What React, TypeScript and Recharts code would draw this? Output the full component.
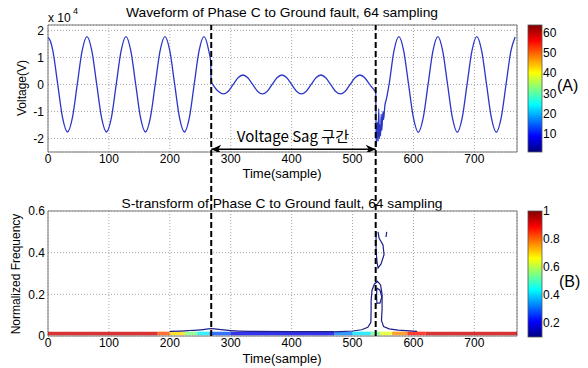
import React from "react";
import {
  ComposedChart,
  Line,
  XAxis,
  YAxis,
  CartesianGrid,
  ReferenceArea,
  ReferenceLine,
  ReferenceDot,
} from "recharts";

// ---- data (time in samples, voltage in units of 1e4 V) ----
const preFault: [number, number][] = [
  [0, 1.74], [4, 1.6], [8, 1.24], [16, 0], [24, -1.24], [32, -1.76], [40, -1.24], [48, 0],
  [56, 1.24], [64, 1.77], [72, 1.24], [80, 0], [88, -1.24], [96, -1.76], [104, -1.24], [112, 0],
  [120, 1.24], [128, 1.77], [136, 1.24], [144, 0], [152, -1.24], [160, -1.76], [168, -1.24], [176, 0],
  [184, 1.24], [192, 1.77], [200, 1.24], [208, 0], [216, -1.24], [224, -1.76], [232, -1.24], [240, 0],
  [248, 1.24], [256, 1.77], [264, 1.24], [267, 0.85],
];
const sagPart: [number, number][] = [
  [268, 0.1], [272, -0.05], [280, -0.26], [288, -0.35], [296, -0.25], [304, 0], [312, 0.25], [320, 0.35],
  [328, 0.25], [336, 0], [344, -0.25], [352, -0.35], [360, -0.25], [368, 0], [376, 0.25], [384, 0.35],
  [392, 0.25], [400, 0], [408, -0.25], [416, -0.35], [424, -0.25], [432, 0], [440, 0.25], [448, 0.35],
  [456, 0.25], [464, 0], [472, -0.25], [480, -0.35], [488, -0.25], [496, 0], [504, 0.25], [512, 0.35],
  [520, 0.25], [528, 0], [536, -0.22], [538, -0.27],
];
const transient: [number, number][] = [
  [539, -2.3], [541, -1.4], [542, -2.1], [543, -0.9], [544, -2.0], [545, -1.5], [546, -1.9],
  [547, -1.1], [548, -1.7], [550, -1.0], [551, -1.3], [553, -0.8], [556, -0.5], [560, 0.0],
];
const postFault: [number, number][] = [
  [568, 1.24], [576, 1.77], [584, 1.24], [592, 0], [600, -1.24], [608, -1.77], [616, -1.24], [624, 0],
  [632, 1.24], [640, 1.77], [648, 1.24], [656, 0], [664, -1.24], [672, -1.77], [680, -1.24], [688, 0],
  [696, 1.24], [704, 1.77], [712, 1.24], [720, 0], [728, -1.24], [736, -1.77], [744, -1.24], [752, 0],
  [760, 1.24], [767, 1.76],
];

const faultStart = 268;
const faultEnd = 538;
const xTicks = [0, 100, 200, 300, 400, 500, 600, 700];
const voltTicks = [-2, -1, 0, 1, 2];
const freqTicks = [0, 0.2, 0.4, 0.6];

// S-transform: low-frequency band, magnitude (0..1) per time span
const bandFrom = [0, 180, 200, 225, 245, 265, 300, 470, 500, 530, 545, 565, 590, 620];
const bandTo = [180, 200, 225, 245, 265, 300, 470, 500, 530, 545, 565, 590, 620, 770];
const bandLevel = [0.92, 0.8, 0.66, 0.5, 0.36, 0.2, 0.1, 0.25, 0.35, 0.48, 0.6, 0.74, 0.86, 0.92];

// S-transform contour lines [time, normalized freq]
const contourLow: [number, number][] = [
  [200, 0.022], [230, 0.026], [255, 0.031], [268, 0.035], [285, 0.031], [300, 0.026], [330, 0.022], [400, 0.021], [470, 0.021],
];
const contourBase: [number, number][] = [
  [470, 0.02], [500, 0.024], [515, 0.03], [525, 0.042], [530, 0.065], [530.5, 0.12], [530.5, 0.17],
  [532, 0.22], [536, 0.25], [541, 0.262], [546, 0.245], [548.5, 0.2], [548.5, 0.13], [547.5, 0.075],
  [551, 0.045], [560, 0.034], [575, 0.028], [606, 0.022],
];
const contourInner: [number, number][] = [
  [540, 0.23], [545, 0.22], [548, 0.187], [545, 0.158], [540, 0.158], [539.4, 0.197], [540, 0.23],
];
const contourUpper: [number, number][] = [
  [538.6, 0.5], [538.6, 0.41], [540.2, 0.355], [541.9, 0.326], [546.8, 0.346], [551.7, 0.39],
  [550, 0.437], [543.5, 0.47], [541.9, 0.5],
];
const contourTick: [number, number][] = [[556, 0.5], [555, 0.475]];

const colorbarATicks = [10, 20, 30, 40, 50, 60];
const colorbarBTicks = [0.2, 0.4, 0.6, 0.8, 1];

const toPts = (arr: [number, number][]) => arr.map(([x, y]) => ({ x, y }));
const waveData = toPts([...preFault, ...sagPart, ...transient, ...postFault]);
const arrowData = [{ x: faultStart, y: -2.4 }, { x: faultEnd, y: -2.4 }];

const clamp = (v: number) => Math.max(0, Math.min(1, v));
const jet = (v: number) => {
  const r = clamp(1.5 - Math.abs(4 * v - 3));
  const g = clamp(1.5 - Math.abs(4 * v - 2));
  const b = clamp(1.5 - Math.abs(4 * v - 1));
  return `rgb(${Math.round(r * 255)},${Math.round(g * 255)},${Math.round(b * 255)})`;
};
const JET_STOPS = [0, 0.125, 0.25, 0.375, 0.5, 0.625, 0.75, 0.875, 1];

const FONT = '"Liberation Sans", Arial, sans-serif';
const GRID = "#a8a8a8";
const BOX = "#767676";
const WAVE = "#2b36c8";
const CONTOUR = "#1c1f86";
const W = 588;
const H = 368;

const tickStyle = { fontSize: 12, fill: "#000", fontFamily: FONT };

const arrowHead = (props: any) => {
  const { cx, cy, index } = props;
  const d = index === 0 ? -1 : 1;
  return (
    <path
      key={`ah-${index}`}
      d={`M${cx},${cy} L${cx - d * 10},${cy - 4.5} L${cx - d * 7},${cy} L${cx - d * 10},${cy + 4.5} Z`}
      fill="#000"
    />
  );
};

const Overlay = () => {
  const cbX = 528;
  const cbW = 14;
  const aTop = 25, aH = 127;
  const bTop = 211, bH = 126;
  return (
    <svg width={W} height={H} style={{ position: "absolute", left: 0, top: 0 }} fontFamily={FONT}>
      <defs>
        <linearGradient id="jet" x1="0" y1="1" x2="0" y2="0">
          {JET_STOPS.map((s) => (
            <stop key={s} offset={s} stopColor={jet(s)} />
          ))}
        </linearGradient>
      </defs>
      <text x={282} y={12} fontSize={13} textAnchor="middle" dominantBaseline="central" textLength={312} lengthAdjust="spacingAndGlyphs">
        Waveform of Phase C to Ground fault, 64 sampling
      </text>
      <text x={282} y={203} fontSize={13} textAnchor="middle" dominantBaseline="central" textLength={321} lengthAdjust="spacingAndGlyphs">
        S-transform of Phase C to Ground fault, 64 sampling
      </text>
      <text x={48} y={22} fontSize={12}>x 10</text>
      <text x={73} y={14} fontSize={9}>4</text>
      <text x={22} y={88} fontSize={12} textAnchor="middle" dominantBaseline="central" transform="rotate(-90 22 88)">
        Voltage(V)
      </text>
      <text x={16} y={274} fontSize={12} textAnchor="middle" dominantBaseline="central" transform="rotate(-90 16 274)">
        Normalized Frequency
      </text>
      <text x={282} y={173.5} fontSize={13} textAnchor="middle" dominantBaseline="central">Time(sample)</text>
      <text x={282} y={358} fontSize={13} textAnchor="middle" dominantBaseline="central">Time(sample)</text>

      <rect x={cbX} y={aTop} width={cbW} height={aH} fill="url(#jet)" stroke="#555" strokeWidth={0.8} />
      {colorbarATicks.map((v) => (
        <text key={v} x={cbX + cbW + 1} y={aTop + ((64 - v) / 63) * aH} fontSize={12} dominantBaseline="central">
          {v}
        </text>
      ))}
      <text x={557} y={85} fontSize={16} dominantBaseline="central">(A)</text>

      <rect x={cbX} y={bTop} width={cbW} height={bH} fill="url(#jet)" stroke="#555" strokeWidth={0.8} />
      {colorbarBTicks.map((v) => (
        <text key={v} x={cbX + cbW + 1} y={bTop + ((1 - v) / 0.9) * bH} fontSize={12} dominantBaseline="central">
          {v}
        </text>
      ))}
      <text x={559} y={281} fontSize={16} dominantBaseline="central">(B)</text>
    </svg>
  );
};

export default function App() {
  return (
    <div style={{ position: "absolute", left: 0, top: 0, width: W, height: H, background: "#fff", fontFamily: FONT }}>
      <Overlay />

      {/* top: waveform */}
      <div style={{ position: "absolute", left: 0, top: 0 }}>
        <ComposedChart width={W} height={H} margin={{ top: 25, right: 71, bottom: 196, left: 0 }}>
          <CartesianGrid stroke={GRID} strokeDasharray="1 2" />
          <XAxis dataKey="x" type="number" domain={[0, 770]} ticks={xTicks} allowDataOverflow height={20}
            tickSize={0} tickMargin={2} axisLine={false} tick={tickStyle} />
          <YAxis dataKey="y" type="number" domain={[-2.5, 2.2]} ticks={voltTicks} allowDataOverflow width={48}
            tickSize={0} tickMargin={4} axisLine={false} tick={tickStyle} />
          <ReferenceArea x1={0} x2={770} y1={-2.5} y2={2.2} fill="none" stroke={BOX} strokeWidth={1} />
          <Line data={waveData} dataKey="y" type="monotone" stroke={WAVE} strokeWidth={1.3} dot={false} isAnimationActive={false} />
          <Line data={arrowData} dataKey="y" type="linear" stroke="#000" strokeWidth={1.6} dot={arrowHead} isAnimationActive={false} />
          <ReferenceDot x={402} y={-1.93} r={0} fill="none" stroke="none"
            label={{ value: "Voltage Sag 구간", position: "center", fontSize: 15, fill: "#000", fontFamily: '"Noto Sans CJK KR", sans-serif' }} />
        </ComposedChart>
      </div>

      {/* bottom: S-transform */}
      <div style={{ position: "absolute", left: 0, top: 0 }}>
        <ComposedChart width={W} height={H} margin={{ top: 211, right: 71, bottom: 12, left: 0 }}>
          <CartesianGrid stroke={GRID} strokeDasharray="1 2" />
          <XAxis dataKey="x" type="number" domain={[0, 770]} ticks={xTicks} allowDataOverflow height={20}
            tickSize={0} tickMargin={2} axisLine={false} tick={tickStyle} />
          <YAxis dataKey="y" type="number" domain={[0, 0.6]} ticks={freqTicks} allowDataOverflow width={48}
            tickSize={0} tickMargin={3} axisLine={false} tick={tickStyle} />
          <ReferenceArea x1={0} x2={770} y1={0} y2={0.6} fill="none" stroke={BOX} strokeWidth={1} />
          {bandFrom.map((from, i) => (
            <ReferenceArea key={from} x1={from} x2={bandTo[i]} y1={0.004} y2={0.021}
              fill={jet(bandLevel[i])} fillOpacity={0.8} stroke="none" />
          ))}
          {[contourLow, contourBase, contourInner, contourUpper, contourTick].map((c, i) => (
            <Line key={i} data={toPts(c)} dataKey="y" type={i === 0 ? "monotone" : "linear"} stroke={CONTOUR}
              strokeWidth={1.2} dot={false} isAnimationActive={false} />
          ))}
          {[faultStart, faultEnd].map((x) => (
            <ReferenceLine key={x} segment={[{ x, y: 0 }, { x, y: 1.493 }]} ifOverflow="visible"
              stroke="#000" strokeWidth={2} strokeDasharray="6 3" />
          ))}
        </ComposedChart>
      </div>
    </div>
  );
}
